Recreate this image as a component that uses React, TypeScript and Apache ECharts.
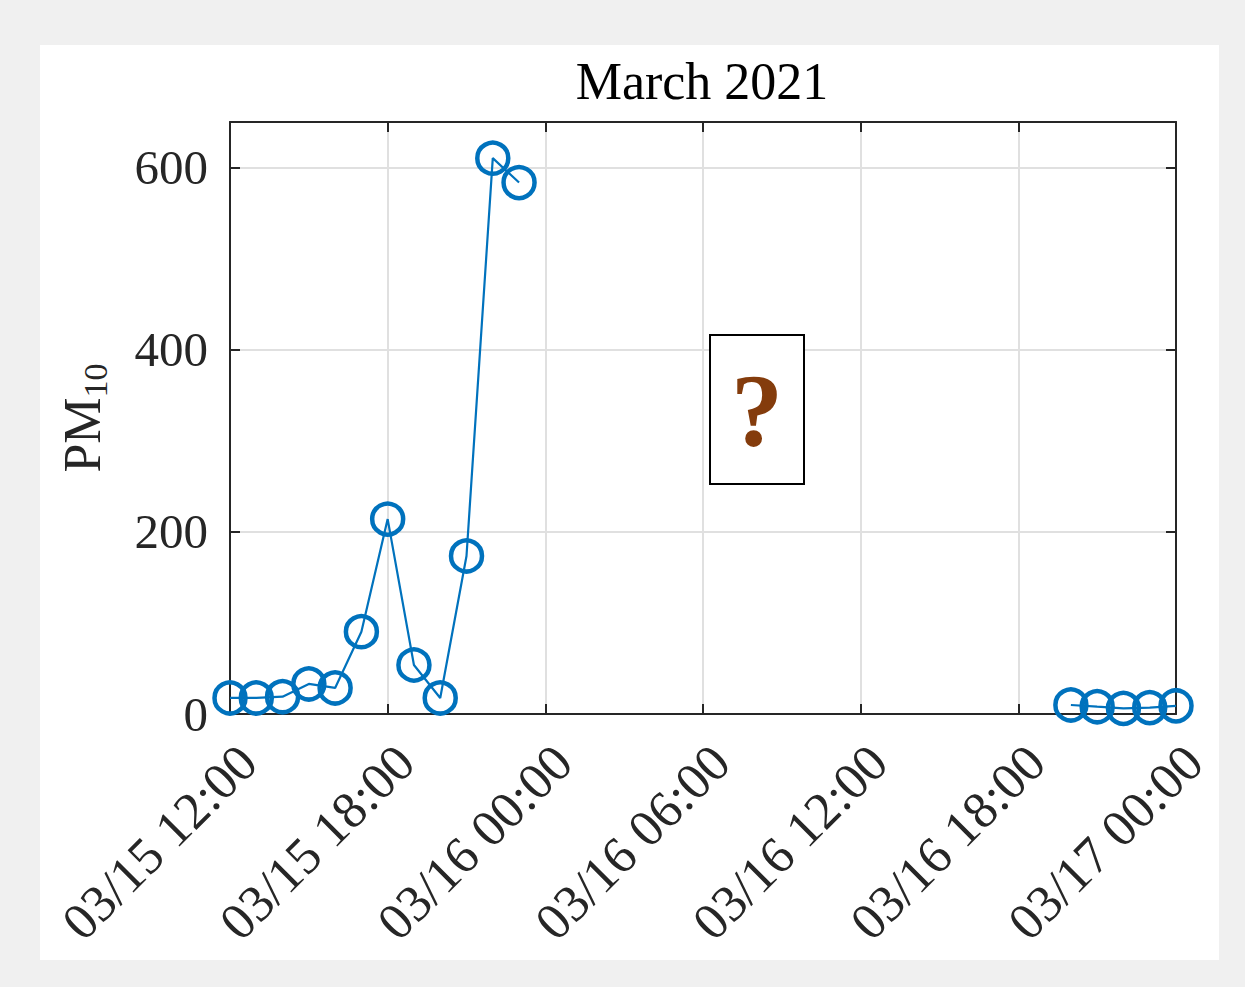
import React, { useEffect, useRef } from "react";
import * as echarts from "echarts";

// ---- data ----
const startTime = "2021-03-15 12:00";
const tickLabels = [
  "03/15 12:00",
  "03/15 18:00",
  "03/16 00:00",
  "03/16 06:00",
  "03/16 12:00",
  "03/16 18:00",
  "03/17 00:00",
];
const sampleTimes = [
  "2021-03-15 12:00",
  "2021-03-15 13:00",
  "2021-03-15 14:00",
  "2021-03-15 15:00",
  "2021-03-15 16:00",
  "2021-03-15 17:00",
  "2021-03-15 18:00",
  "2021-03-15 19:00",
  "2021-03-15 20:00",
  "2021-03-15 21:00",
  "2021-03-15 22:00",
  "2021-03-15 23:00",
  "2021-03-16 00:00",
  "2021-03-16 20:00",
  "2021-03-16 21:00",
  "2021-03-16 22:00",
  "2021-03-16 23:00",
  "2021-03-17 00:00",
];
const pm10: (number | null)[] = [
  17.6, 17.6, 19, 33, 28.6, 90.4, 214, 53.8, 17.6, 173.5, 610.3, 583.5,
  null,
  9.9, 8, 6.2, 7, 9,
];
const yTicks = [0, 200, 400, 600];
const titleText = "March 2021";

function parseT(s: string): number {
  const [d, t] = s.split(" ");
  const [Y, M, D] = d.split("-").map(Number);
  const [h, m] = t.split(":").map(Number);
  return Date.UTC(Y, M - 1, D, h, m);
}
const t0 = parseT(startTime);
const hours = sampleTimes.map((s) => (parseT(s) - t0) / 3600000);

const FONT = "Liberation Serif";
const AX = "#262626";

export default function App() {
  const ref = useRef<HTMLDivElement>(null);
  useEffect(() => {
    const chart = echarts.init(ref.current!, null, { renderer: "svg" });
    const seriesData = hours.map((h, i) => [h, pm10[i]]);
    const axisLine = { show: true, onZero: false, lineStyle: { color: AX, width: 2 } };
    const axisTick = { show: true, inside: true, length: 10, lineStyle: { color: AX, width: 2 } };
    chart.setOption({
      animation: false,
      backgroundColor: "#f0f0f0",
      textStyle: { fontFamily: FONT },
      graphic: [
        {
          type: "rect",
          z: -100,
          shape: { x: 40, y: 45, width: 1179, height: 915 },
          style: { fill: "#ffffff" },
          silent: true,
        },
        {
          type: "rect",
          z: 50,
          shape: { x: 710, y: 335, width: 94, height: 149 },
          style: { fill: "#ffffff", stroke: "#000000", lineWidth: 2 },
        },
        {
          type: "text",
          z: 51,
          x: 757,
          y: 410,
          style: {
            text: "?",
            fontFamily: FONT,
            fontWeight: "bold",
            fontSize: 104,
            fill: "#843c0c",
            align: "center",
            verticalAlign: "middle",
          },
        },
      ],
      title: {
        text: titleText,
        left: 697,
        top: 50,
        textAlign: "center",
        textStyle: { fontFamily: FONT, fontSize: 52, fontWeight: "normal", color: "#000" },
      },
      grid: { left: 230, top: 122, width: 946, height: 592, containLabel: false },
      xAxis: [
        {
          type: "value",
          min: 0,
          max: 36,
          interval: 6,
          position: "bottom",
          axisLine,
          axisTick,
          splitLine: { show: true, lineStyle: { color: "#e0e0e0", width: 2 } },
          axisLabel: {
            rotate: 45,
            align: "right",
            verticalAlign: "top",
            margin: 22,
            lineHeight: 50,
            fontFamily: FONT,
            fontSize: 52,
            color: AX,
            formatter: (v: number) => tickLabels[Math.round(v / 6)] ?? "",
          },
        },
        {
          type: "value",
          min: 0,
          max: 36,
          interval: 6,
          position: "top",
          axisLine,
          axisTick,
          splitLine: { show: false },
          axisLabel: { show: false },
        },
      ],
      yAxis: [
        {
          type: "value",
          min: 0,
          max: 650,
          interval: 200,
          position: "left",
          axisLine,
          axisTick,
          splitLine: { show: true, lineStyle: { color: "#e0e0e0", width: 2 } },
          axisLabel: {
            margin: 22,
            fontFamily: FONT,
            fontSize: 49,
            color: AX,
            showMaxLabel: false,
            formatter: (v: number) => (yTicks.includes(v) ? String(v) : ""),
          },
          name: "{a|PM}{b|10}",
          nameLocation: "middle",
          nameGap: 118,
          nameRotate: 90,
          nameTextStyle: {
            rich: {
              a: { fontFamily: FONT, fontSize: 52, color: AX },
              b: { fontFamily: FONT, fontSize: 34, color: AX, verticalAlign: "bottom", padding: [26, 0, 0, 0] },
            },
          },
        },
        {
          type: "value",
          min: 0,
          max: 650,
          interval: 200,
          position: "right",
          axisLine,
          axisTick,
          splitLine: { show: false },
          axisLabel: { show: false },
        },
      ],
      series: [
        {
          type: "line",
          data: seriesData,
          xAxisIndex: 0,
          yAxisIndex: 0,
          clip: false,
          connectNulls: false,
          symbol: "circle",
          symbolSize: 31,
          showAllSymbol: true,
          lineStyle: { color: "#0072BD", width: 2.2 },
          itemStyle: { color: "rgba(0,0,0,0)", borderColor: "#0072BD", borderWidth: 4.5 },
          z: 10,
        },
      ],
    });
    return () => chart.dispose();
  }, []);
  return (
    <div
      ref={ref}
      style={{ position: "absolute", left: 0, top: 0, width: 1245, height: 987 }}
    />
  );
}
